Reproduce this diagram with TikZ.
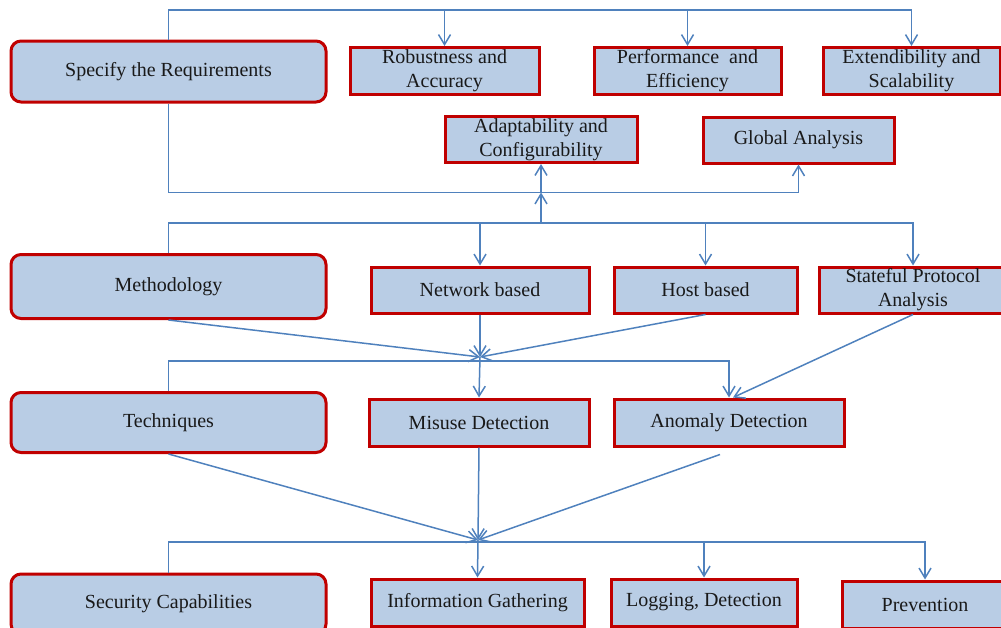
\documentclass[tikz,border=0pt]{standalone}
\usepackage{fontspec}
\setmainfont{Liberation Serif}
\usetikzlibrary{arrows.meta}
\definecolor{boxfill}{HTML}{B9CDE5}
\definecolor{boxline}{HTML}{C00000}
\definecolor{linkcol}{HTML}{4F81BD}
\begin{document}
\begin{tikzpicture}[x=1pt,y=-1pt,
  box/.style={draw=boxline, fill=boxfill, line width=3pt, inner sep=0pt,
    align=center, font=\fontsize{20}{24}\selectfont, text=black!90},
  mainbox/.style={box, rounded corners=10pt, minimum width=315pt, minimum height=61pt},
  subbox/.style={box, minimum height=47pt},
  link/.style={draw=linkcol, line width=1.5pt},
  arr/.style={link, -{Straight Barb[length=10pt,width=12pt]}}]
\useasboundingbox (0,0) rectangle (1001,627);
\clip (0,0) rectangle (1001,627);

% bus levels
\coordinate (busA) at (0,10);
\coordinate (busB) at (0,192.5);
\coordinate (busC) at (0,223);
\coordinate (busD) at (0,361);
\coordinate (busE) at (0,542);
\coordinate (m1) at (480,357);
\coordinate (m2) at (478,540);

% left column
\node[mainbox] (req)  at (168.5,71.5) {Specify the Requirements};
\node[mainbox, minimum height=64pt] (meth) at (168.5,286.5) {Methodology};
\node[mainbox, minimum height=60pt] (tech) at (168.5,422.5) {Techniques};
\node[mainbox, minimum height=60pt] (sec)  at (168.5,604) {Security Capabilities};

% requirements
\node[subbox, minimum width=189pt] (rob)  at (444.5,71) {Robustness and\\Accuracy};
\node[subbox, minimum width=187pt] (perf) at (687.5,71) {Performance\ \ and\\Efficiency};
\node[subbox, minimum width=177pt] (ext)  at (911.5,71) {Extendibility\ and\\Scalability};
\node[subbox, minimum width=192pt, minimum height=46pt] (adapt) at (541,139.5) {Adaptability\ and\\Configurability};
\node[subbox, minimum width=191pt, minimum height=46pt] (glob)  at (798.5,140) {Global Analysis};

% methodology
\node[subbox, minimum width=218pt, minimum height=46pt] (net)   at (480,290) {Network based};
\node[subbox, minimum width=183pt, minimum height=46pt] (host)  at (705.5,290) {Host based};
\node[subbox, minimum width=188pt, minimum height=46pt] (state) at (913,290) {Stateful Protocol\\Analysis};

% techniques
\node[subbox, minimum width=220pt] (mis)  at (479,422.5) {Misuse Detection};
\node[subbox, minimum width=230pt] (anom) at (729,422.5) {Anomaly Detection};

% security capabilities
\node[subbox, minimum width=213pt] (info) at (477.5,602.5) {Information Gathering};
\node[subbox, minimum width=186pt] (logd) at (704,602.5) {Logging, Detection};
\node[subbox, minimum width=166pt] (prev) at (925,604.5) {Prevention};

% requirement links
\draw[arr] (req.north) |- (ext.north |- busA) -- (ext.north);
\draw[arr] (rob.north |- busA) -- (rob.north);
\draw[arr] (perf.north |- busA) -- (perf.north);
\draw[arr] (req.south) |- (glob.south |- busB) -- (glob.south);
\draw[arr] (adapt.south |- busB) -- (adapt.south);

% methodology links
\draw[arr] (meth.north) |- (state.north |- busC) -- (state.north);
\draw[arr] (net.north |- busC) -- (net.north);
\draw[arr] (host.north |- busC) -- (host.north);
\draw[arr] (adapt.south |- busC) -- (adapt.south |- busB);
\draw[arr] (meth.south) -- (m1);
\draw[arr] (net.south) -- (m1);
\draw[arr] (host.south) -- (m1);

% technique links
\draw[arr] (tech.north) |- (anom.north |- busD) -- (anom.north);
\draw[arr] (m1) -- (mis.north);
\draw[arr] (state.south) -- ([xshift=4pt]anom.north);
\draw[arr] (tech.south) -- (m2);
\draw[arr] (mis.south) -- (m2);
\draw[arr] ([xshift=-9pt,yshift=-7pt]anom.south) -- (m2);

% security capability links
\draw[arr] (sec.north) |- (prev.north |- busE) -- (prev.north);
\draw[arr] (m2) -- (info.north);
\draw[arr] (logd.north |- busE) -- (logd.north);
\end{tikzpicture}
\end{document}
